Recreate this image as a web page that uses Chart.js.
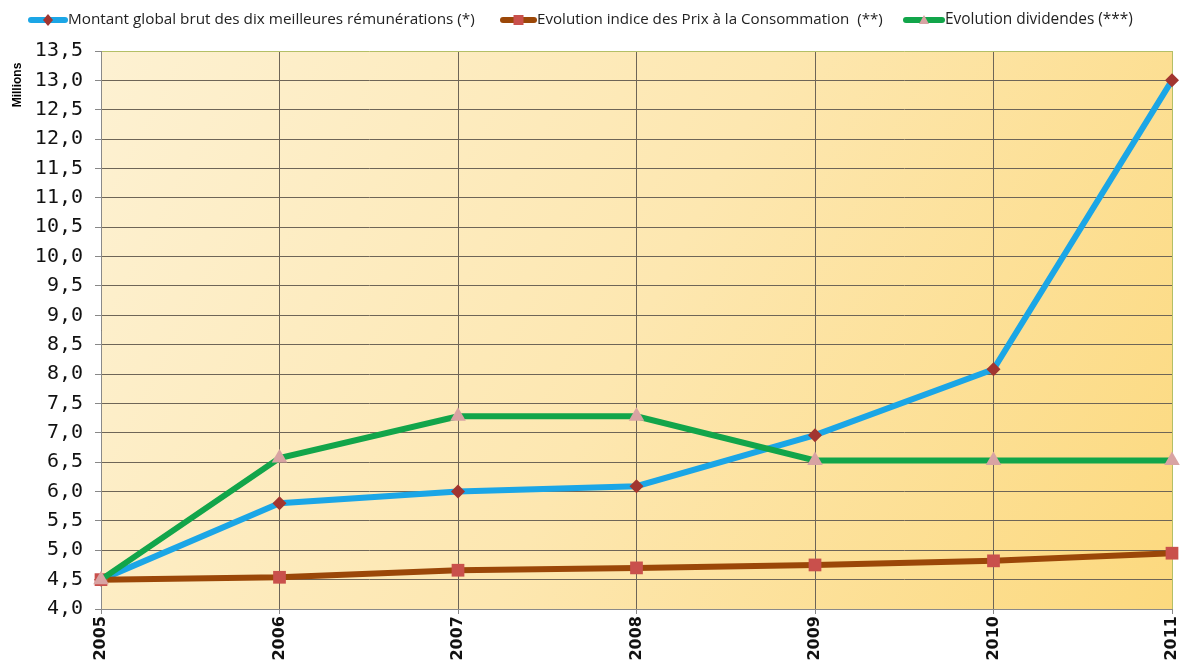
<!DOCTYPE html>
<html><head><meta charset="utf-8">
<script src="https://cdn.jsdelivr.net/npm/chart.js@4/dist/chart.umd.min.js"></script>
<style>html,body{margin:0;padding:0;background:#fff;}#wrap{width:1182px;height:666px;position:relative;}</style>
</head><body><div id="wrap"><canvas id="c" width="1182" height="666"></canvas></div>
<script>
const years = ['2005','2006','2007','2008','2009','2010','2011'];
const remunerations = [4.5, 5.8, 6.0, 6.09, 6.96, 8.08, 13.0];
const prixConso = [4.5, 4.54, 4.66, 4.70, 4.75, 4.82, 4.95];
const dividendes = [4.5, 6.57, 7.28, 7.28, 6.53, 6.53, 6.53];
const seriesNames = ['Montant global brut des dix meilleures rémunérations (*)', 'Evolution indice des Prix à la Consommation  (**)', 'Evolution dividendes (***)'];
const yTicksMin = 4.0, yTicksMax = 13.5, yStep = 0.5;
const yUnit = 'Millions';

const bgPlugin = {
  id: 'bg',
  beforeDraw(chart) {
    const {ctx, chartArea: a} = chart;
    const g = ctx.createLinearGradient(a.left, a.top, a.right, a.bottom);
    g.addColorStop(0, '#fdf1d2');
    g.addColorStop(0.5, '#fde7b0');
    g.addColorStop(1, '#fcd97e');
    ctx.save();
    ctx.fillStyle = g;
    ctx.fillRect(a.left, a.top, a.right - a.left, a.bottom - a.top);
    ctx.restore();
  },
  afterDraw(chart) {
    const {ctx} = chart;
    ctx.save();
    ctx.translate(18, 85);
    ctx.rotate(-Math.PI / 2);
    ctx.font = 'bold 12px "Liberation Sans", Arial, sans-serif';
    ctx.fillStyle = '#000';
    ctx.textAlign = 'center';
    ctx.textBaseline = 'middle';
    ctx.fillText(yUnit, 0, 0);
    ctx.restore();
    const items = [
      {x: 28, tx: 68, tw: 407, color: '#1ba6e6', marker: 'diamond'},
      {x: 500, tx: 537, tw: 346, color: '#9b4708', marker: 'square'},
      {x: 903, tx: 945, tw: 188, color: '#12a54a', marker: 'triangle'}
    ];
    ctx.save();
    ctx.textBaseline = 'middle';
    const y = 20;
    items.forEach((it, i) => {
      ctx.strokeStyle = it.color;
      ctx.lineWidth = 6;
      ctx.lineCap = 'round';
      ctx.beginPath(); ctx.moveTo(it.x + 3, y); ctx.lineTo(it.tx - 3, y); ctx.stroke();
      const cx = (it.x + it.tx) / 2;
      if (it.marker === 'diamond') {
        ctx.fillStyle = '#a23530';
        ctx.beginPath(); ctx.moveTo(cx, y - 6); ctx.lineTo(cx + 5, y); ctx.lineTo(cx, y + 6); ctx.lineTo(cx - 5, y); ctx.closePath(); ctx.fill();
      } else if (it.marker === 'square') {
        ctx.fillStyle = '#c9504c';
        ctx.fillRect(cx - 5, y - 5, 10, 10);
      } else {
        ctx.fillStyle = '#d8a3a3';
        ctx.beginPath(); ctx.moveTo(cx, y - 5); ctx.lineTo(cx + 5, y + 4); ctx.lineTo(cx - 5, y + 4); ctx.closePath(); ctx.fill();
      }
      let size = 14;
      ctx.font = size + 'px "Open Sans", sans-serif';
      const w = ctx.measureText(seriesNames[i]).width;
      size = size * it.tw / w;
      ctx.font = size.toFixed(2) + 'px "Open Sans", sans-serif';
      ctx.fillStyle = '#222';
      ctx.fillText(seriesNames[i], it.tx, y);
    });
    ctx.restore();
  }
};

new Chart(document.getElementById('c'), {
  type: 'line',
  data: {
    labels: years,
    datasets: [
      {label: seriesNames[0], data: remunerations, borderColor: '#1ba6e6', borderWidth: 6,
       pointStyle: 'rectRot', pointRadius: 7, pointBackgroundColor: '#a23530', pointBorderWidth: 0, order: 3, tension: 0},
      {label: seriesNames[1], data: prixConso, borderColor: '#9b4708', borderWidth: 6,
       pointStyle: 'rect', pointRadius: 9, pointBackgroundColor: '#c9504c', pointBorderWidth: 0, order: 2, tension: 0},
      {label: seriesNames[2], data: dividendes, borderColor: '#12a54a', borderWidth: 6,
       pointStyle: 'triangle', pointRadius: 9, pointBackgroundColor: '#d8a3a3', pointBorderWidth: 0, order: 1, tension: 0}
    ]
  },
  options: {
    responsive: false,
    animation: false,
    layout: {padding: {top: 51, right: 0, left: 0, bottom: 0}},
    plugins: {legend: {display: false}, tooltip: {enabled: false}},
    scales: {
      x: {
        offset: false,
        grid: {color: (c) => c.index === years.length - 1 ? '#b4bf66' : '#6e6557', lineWidth: 1, drawTicks: true, tickLength: 5, tickColor: '#888'},
        border: {color: '#8a8a8a', width: 1},
        ticks: {maxRotation: 90, minRotation: 90, color: '#111', padding: 2,
                font: {family: '"DejaVu Sans", Verdana, sans-serif', weight: 'bold', size: 16}},
        afterFit(s) { s.height = 57; s.paddingRight = 10; }
      },
      y: {
        min: yTicksMin, max: yTicksMax,
        grid: {color: (c) => c.tick && c.tick.value === yTicksMax ? '#b4bf66' : '#6e6557', lineWidth: 1, tickLength: 6, tickColor: '#888'},
        border: {color: '#8a8a8a', width: 1},
        ticks: {stepSize: yStep, color: '#111', padding: 12,
                font: {family: '"DejaVu Sans Mono", monospace', size: 20},
                callback: (v) => v.toFixed(1).replace('.', ',')},
        afterFit(s) { s.width = 101; }
      }
    }
  },
  plugins: [bgPlugin]
});
</script></body></html>
